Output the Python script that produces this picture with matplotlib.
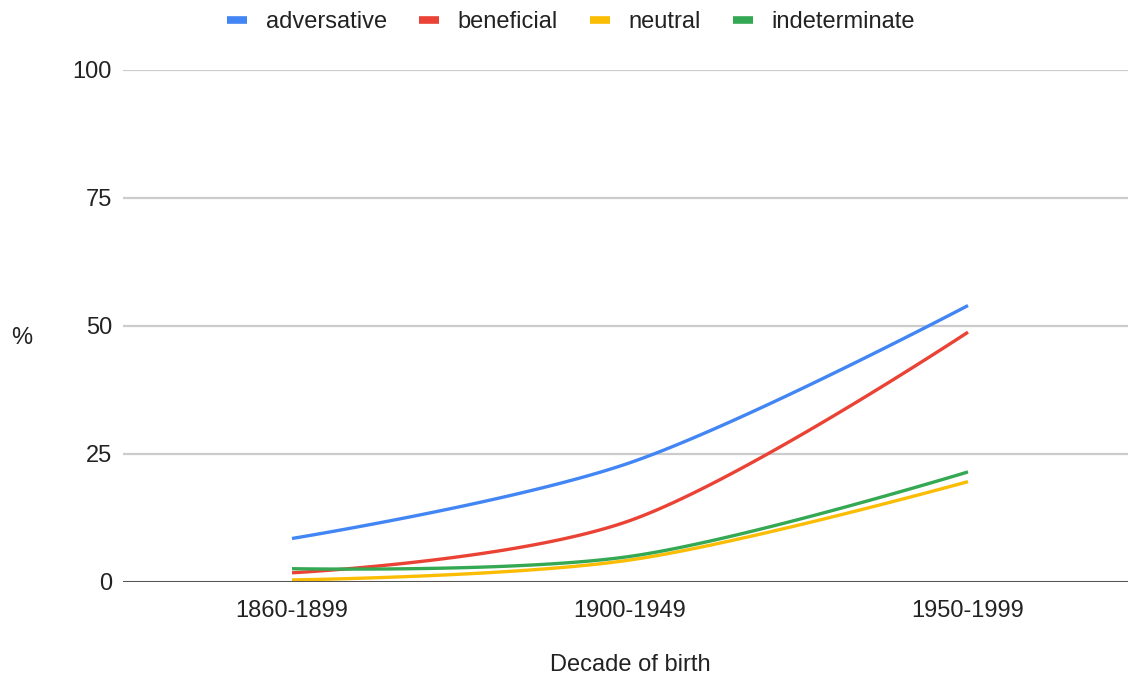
import numpy as np
import matplotlib
matplotlib.use("Agg")
import matplotlib.pyplot as plt
from matplotlib.lines import Line2D

plt.rcParams['font.family'] = ['Liberation Sans', 'DejaVu Sans']

decades = ["1860-1899", "1900-1949", "1950-1999"]
adversative = [8.5, 23.3, 54.0]
beneficial = [1.8, 12.0, 48.8]
neutral = [0.4, 4.3, 19.6]
indeterminate = [2.6, 5.0, 21.5]

series = [
    ("adversative", adversative, "#4285F4"),
    ("beneficial", beneficial, "#EA4335"),
    ("neutral", neutral, "#FBBC04"),
    ("indeterminate", indeterminate, "#34A853"),
]


def smooth(xs, ys, n=60):
    """Cubic Bezier smoothing through every point (cardinal-style tangents)."""
    xs = np.asarray(xs, float)
    ys = np.asarray(ys, float)
    m = len(xs)
    px, py = [], []
    for i in range(m - 1):
        x0, y0, x1, y1 = xs[i], ys[i], xs[i + 1], ys[i + 1]
        if i > 0:
            tx = (xs[i + 1] - xs[i - 1]) / 2
            ty = (ys[i + 1] - ys[i - 1]) / 2
            c1 = (x0 + tx / 3, y0 + ty / 3)
        else:
            c1 = (x0, y0)
        if i + 2 < m:
            tx = (xs[i + 2] - xs[i]) / 2
            ty = (ys[i + 2] - ys[i]) / 2
            c2 = (x1 - tx / 3, y1 - ty / 3)
        else:
            c2 = (x1, y1)
        t = np.linspace(0, 1, n)
        b0 = (1 - t) ** 3
        b1 = 3 * (1 - t) ** 2 * t
        b2 = 3 * (1 - t) * t ** 2
        b3 = t ** 3
        px.append(b0 * x0 + b1 * c1[0] + b2 * c2[0] + b3 * x1)
        py.append(b0 * y0 + b1 * c1[1] + b2 * c2[1] + b3 * y1)
    return np.concatenate(px), np.concatenate(py)


W, H = 1128, 676
fig = plt.figure(figsize=(W / 100, H / 100), dpi=100)
left, right, top, bottom = 123, 1128, 70, 582
ax = fig.add_axes([left / W, 1 - bottom / H, (right - left) / W, (bottom - top) / H])

xpos = np.arange(len(decades))
handles = []
for name, vals, color in series:
    sx, sy = smooth(xpos, vals)
    ax.plot(sx, sy, color=color, lw=2.4, solid_capstyle='butt', zorder=3)
    handles.append(Line2D([], [], color=color, lw=5.5, solid_capstyle='butt'))

ax.set_ylim(0, 100)
ax.set_xlim(-0.5, -0.5 + (right - left) / 338.0)
ax.set_yticks([0, 25, 50, 75, 100])
ax.set_xticks(xpos)
ax.set_xticklabels(decades)
ax.tick_params(axis='both', length=0, labelsize=17, colors='#222222')
ax.tick_params(axis='y', pad=8)
ax.tick_params(axis='x', pad=13)
for yv in [25, 50, 75, 100]:
    ax.axhline(yv, color='#cccccc', lw=1.6, zorder=1)
ax.axhline(0, color='#555555', lw=2.2, zorder=4)
for s in ax.spines.values():
    s.set_visible(False)

fig.text(22 / W, 1 - 338 / H, "%", fontsize=17, ha='center', va='center', color='#222222')
fig.text(630 / W, 1 - 665 / H, "Decade of birth", fontsize=17, ha='center', va='center', color='#222222')

fig.legend(handles, [s[0] for s in series], loc='center', bbox_to_anchor=(571 / W, 1 - 22 / H),
           ncol=4, frameon=False, fontsize=17, handlelength=0.85, handletextpad=0.8,
           columnspacing=1.35, borderpad=0, labelcolor='#222222')

fig.savefig("out.png", dpi=100)
